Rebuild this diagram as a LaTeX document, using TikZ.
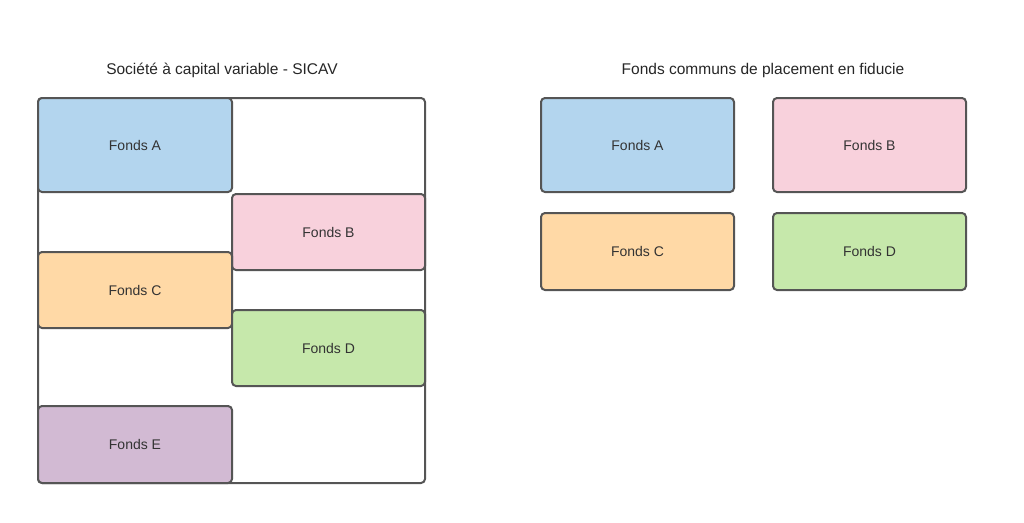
\documentclass[tikz,border=0pt]{standalone}
\usepackage{fontspec}
\setmainfont{Liberation Sans}
\definecolor{fa}{HTML}{B3D5EE}
\definecolor{fb}{HTML}{F8D1DC}
\definecolor{fc}{HTML}{FFD9A6}
\definecolor{fd}{HTML}{C6E8AB}
\definecolor{fe}{HTML}{D2BAD3}
\definecolor{edge}{HTML}{555555}
\definecolor{txt}{HTML}{333333}
\begin{document}
\begin{tikzpicture}[x=1pt,y=-1pt,
  fund/.style={draw=edge,line width=2pt,rounded corners=4pt},
  lbl/.style={text=txt,font=\fontsize{14}{16}\selectfont},
  ttl/.style={text=black!85,font=\fontsize{15.5}{18}\selectfont}]
\useasboundingbox (0,0) rectangle (1024,522);
\draw[fund,fill=white] (38,98) rectangle (425,483);
\foreach \n/\c/\xa/\ya/\xb/\yb/\t in {a/fa/38/98/232/192/A, b/fb/232/194/425/270/B, c/fc/38/252/232/328/C, d/fd/232/310/425/386/D, e/fe/38/406/232/483/E,
  ra/fa/541/98/734/192/A, rb/fb/773/98/966/192/B, rc/fc/541/213/734/290/C, rd/fd/773/213/966/290/D}{
  \draw[fund,fill=\c] (\xa,\ya) rectangle (\xb,\yb);
  \node[lbl] (\n) at ({(\xa+\xb)/2},{(\ya+\yb)/2}) {Fonds \t};
}
\node[ttl] (t1) at (222,70) {Société à capital variable - SICAV};
\node[ttl] (t2) at (763,70) {Fonds communs de placement en fiducie};
\end{tikzpicture}
\end{document}
